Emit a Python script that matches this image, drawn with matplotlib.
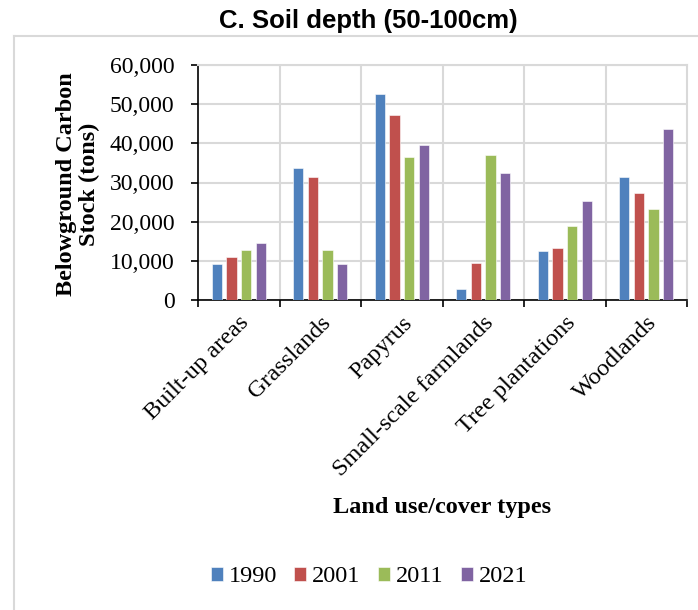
import matplotlib.pyplot as plt
import numpy as np
from matplotlib.lines import Line2D
from matplotlib.ticker import FuncFormatter, MultipleLocator

# data (tons)
categories = ['Built-up areas', 'Grasslands', 'Papyrus', 'Small-scale farmlands',
              'Tree plantations', 'Woodlands']
years = ['1990', '2001', '2011', '2021']
v1990 = [9200, 33800, 52600, 2900, 12600, 31400]
v2001 = [10900, 31500, 47200, 9400, 13200, 27400]
v2011 = [12700, 12700, 36400, 37000, 18800, 23200]
v2021 = [14500, 9300, 39700, 32400, 25300, 43600]
series = [v1990, v2001, v2011, v2021]
colors = ['#4F81BD', '#C0504D', '#9BBB59', '#8064A2']

plt.rcParams['font.family'] = ['Liberation Serif', 'DejaVu Serif']
fs = 17.5

fig = plt.figure(figsize=(6.98, 6.10), dpi=100)
W, H = 698, 610
ax = fig.add_axes([198 / W, 1 - 300 / H, (687 - 198) / W, (300 - 65) / H])

x = np.arange(len(categories))
width = 0.125
step = 0.18
for i, vals in enumerate(series):
    ax.bar(x + (i - 1.5) * step, vals, width, color=colors[i], label=years[i],
           edgecolor='white', linewidth=0.4, zorder=3)

grid = '#d9d9d9'
ax.set_xlim(-0.5, len(categories) - 0.5)
ax.set_ylim(0, 60000)
ax.yaxis.set_major_locator(MultipleLocator(10000))
ax.yaxis.set_major_formatter(FuncFormatter(lambda v, p: f'{int(v):,}'))
ax.grid(axis='y', color=grid, linewidth=1.5, zorder=0)
for b in np.arange(0.5, len(categories) - 0.5, 1):
    ax.axvline(b, color=grid, linewidth=1.5, zorder=0)

ax.set_xticks(np.arange(-0.5, len(categories), 1))
ax.set_xticklabels([])
ax.set_xticks(x, minor=True)
ax.set_xticklabels(categories, minor=True, rotation=45, ha='right',
                   rotation_mode='anchor', fontsize=fs)
ax.tick_params(axis='x', which='minor', length=0, pad=9)
ax.tick_params(axis='x', which='major', length=5, width=1.2, direction='out')
ax.tick_params(axis='y', length=5, width=1.2, direction='out', labelsize=17, pad=12)

ax.spines['left'].set_linewidth(1.2)
ax.spines['bottom'].set_linewidth(1.2)
ax.spines['top'].set_color(grid)
ax.spines['right'].set_color(grid)
ax.spines['top'].set_linewidth(1.5)
ax.spines['right'].set_linewidth(1.5)

fig.text(368 / W, 1 - 21 / H, 'C. Soil depth (50-100cm)', ha='center', va='center',
         fontsize=18.5, fontweight='bold', family=['Liberation Sans', 'DejaVu Sans'])
fig.text(78 / W, 1 - 184 / H, 'Belowground Carbon\nStock (tons)', rotation=90,
         ha='center', va='center', multialignment='center', fontsize=fs,
         fontweight='bold', linespacing=1.15)
fig.text(442 / W, 1 - 508 / H, 'Land use/cover types', ha='center', va='center',
         fontsize=fs, fontweight='bold')

# outer chart frame
fig.add_artist(Line2D([14 / W, 1], [1 - 36 / H, 1 - 36 / H], color=grid, linewidth=1.5))
fig.add_artist(Line2D([14 / W, 14 / W], [0, 1 - 36 / H], color=grid, linewidth=1.5))

fig.legend(loc='center', bbox_to_anchor=(369 / W, 1 - 577 / H), ncol=4, frameon=False,
           fontsize=fs, handlelength=0.5, handleheight=0.5, handletextpad=0.25,
           columnspacing=0.7, borderpad=0.2)

fig.savefig('out.png', dpi=100)
